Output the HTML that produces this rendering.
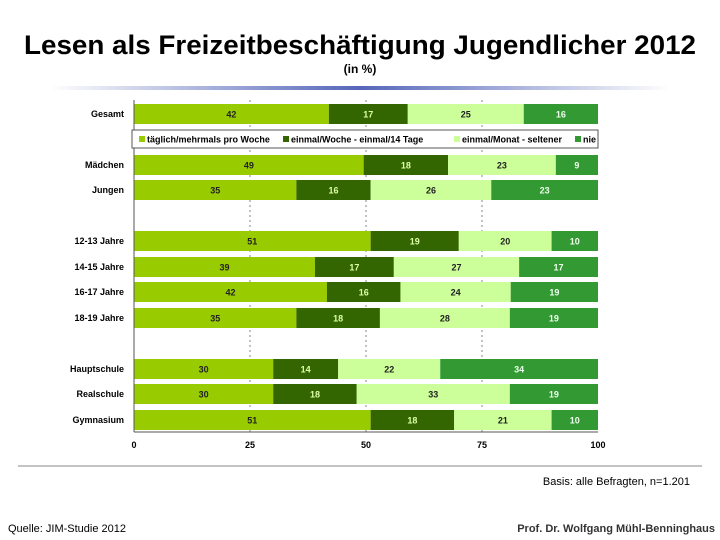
<!DOCTYPE html>
<html><head><meta charset="utf-8"><style>
body{margin:0;background:#fff}
svg{display:block;font-family:"Liberation Sans",sans-serif}
</style></head><body>
<svg id="c" width="720" height="540" viewBox="0 0 720 540">
<defs><linearGradient id="g" x1="0" x2="1"><stop offset="0" stop-color="#fff"/><stop offset="0.5" stop-color="#5566bb"/><stop offset="1" stop-color="#fff"/></linearGradient></defs>
<text x="360" y="54" text-anchor="middle" font-size="27" font-weight="bold" textLength="672" lengthAdjust="spacingAndGlyphs">Lesen als Freizeitbeschäftigung Jugendlicher 2012</text>
<text x="360" y="73" text-anchor="middle" font-size="12" font-weight="bold">(in %)</text>
<rect x="50" y="86" width="620" height="4" fill="url(#g)"/>
<g id="plot"></g>
<line x1="18" y1="466" x2="702" y2="466" stroke="#888"/>
<text x="690" y="485" text-anchor="end" font-size="11">Basis: alle Befragten, n=1.201</text>
<text x="8" y="532" font-size="11">Quelle: JIM-Studie 2012</text>
<text x="715" y="532" text-anchor="end" font-size="11" font-weight="bold" fill="#333">Prof. Dr. Wolfgang Mühl-Benninghaus</text>
</svg>
<script>
const categories=["Gesamt","Mädchen","Jungen","12-13 Jahre","14-15 Jahre","16-17 Jahre","18-19 Jahre","Hauptschule","Realschule","Gymnasium"];
const daily=[42,49,35,51,39,42,35,30,30,51];
const weekly=[17,18,16,19,17,16,18,14,18,18];
const monthly=[25,23,26,20,27,24,28,22,33,21];
const never=[16,9,23,10,17,19,19,34,19,10];
const seriesNames=["täglich/mehrmals pro Woche","einmal/Woche - einmal/14 Tage","einmal/Monat - seltener","nie"];
const xTicks=[0,25,50,75,100];
const rowY=[114,165,190,241,267,292,318,369,394,420];
const colors=["#99cc00","#336600","#ccff99","#339933"];
const txtColors=["#222","#ddffaa","#222","#eeffee"];
const NS="http://www.w3.org/2000/svg";
const g=document.getElementById("plot");
const X0=134,X1=598;
const xs=v=>X0+(X1-X0)*v/100;
function mk(t,a,p){const e=document.createElementNS(NS,t);for(const k in a)e.setAttribute(k,a[k]);(p||g).appendChild(e);return e;}
// grid
xTicks.forEach(t=>{
  if(t>0&&t<100){const l=mk("line",{x1:xs(t),y1:100,x2:xs(t),y2:432,stroke:"#555","stroke-dasharray":"2,3","stroke-width":0.7});
  
  }
  const tx=mk("text",{x:xs(t),y:448,"text-anchor":"middle","font-size":"9","font-weight":"bold"});tx.textContent=t;
  
  
});
const series=[daily,weekly,monthly,never];
categories.forEach((c,i)=>{
  const y=rowY[i];
  const lab=mk("text",{x:124,y:y+3,"text-anchor":"end","font-size":"9","font-weight":"bold"});lab.textContent=c;
  
  
  const sum=series.reduce((s,a)=>s+a[i],0);
  let acc=0;
  series.forEach((a,j)=>{
    const v=a[i]*100/sum;
    const r=mk("rect",{x:xs(acc),y:y-10,width:xs(acc+v)-xs(acc),height:20,fill:colors[j]});
    
    
    const t=mk("text",{x:(xs(acc)+xs(acc+v))/2,y:y+3.5,"text-anchor":"middle","font-size":"9","font-weight":"bold",fill:txtColors[j]});t.textContent=a[i];
    
    
    acc+=v;
  });
});
// axes
const ya=mk("line",{x1:X0,y1:100,x2:X0,y2:432,stroke:"#555"});


const xa=mk("line",{x1:X0,y1:432,x2:X1,y2:432,stroke:"#555"});


// legend
const lg=mk("g",{});


mk("rect",{x:132,y:130,width:466,height:18,fill:"#fff",stroke:"#555"},lg);
const lx=[139,283,454,575];
seriesNames.forEach((n,j)=>{
  const s=mk("rect",{x:lx[j],y:136,width:6,height:6,fill:colors[j]},lg);
  
  
  const t=mk("text",{x:lx[j]+8,y:142.5,"font-size":"9","font-weight":"bold"},lg);t.textContent=n;
  
  
});
</script>
</body></html>
